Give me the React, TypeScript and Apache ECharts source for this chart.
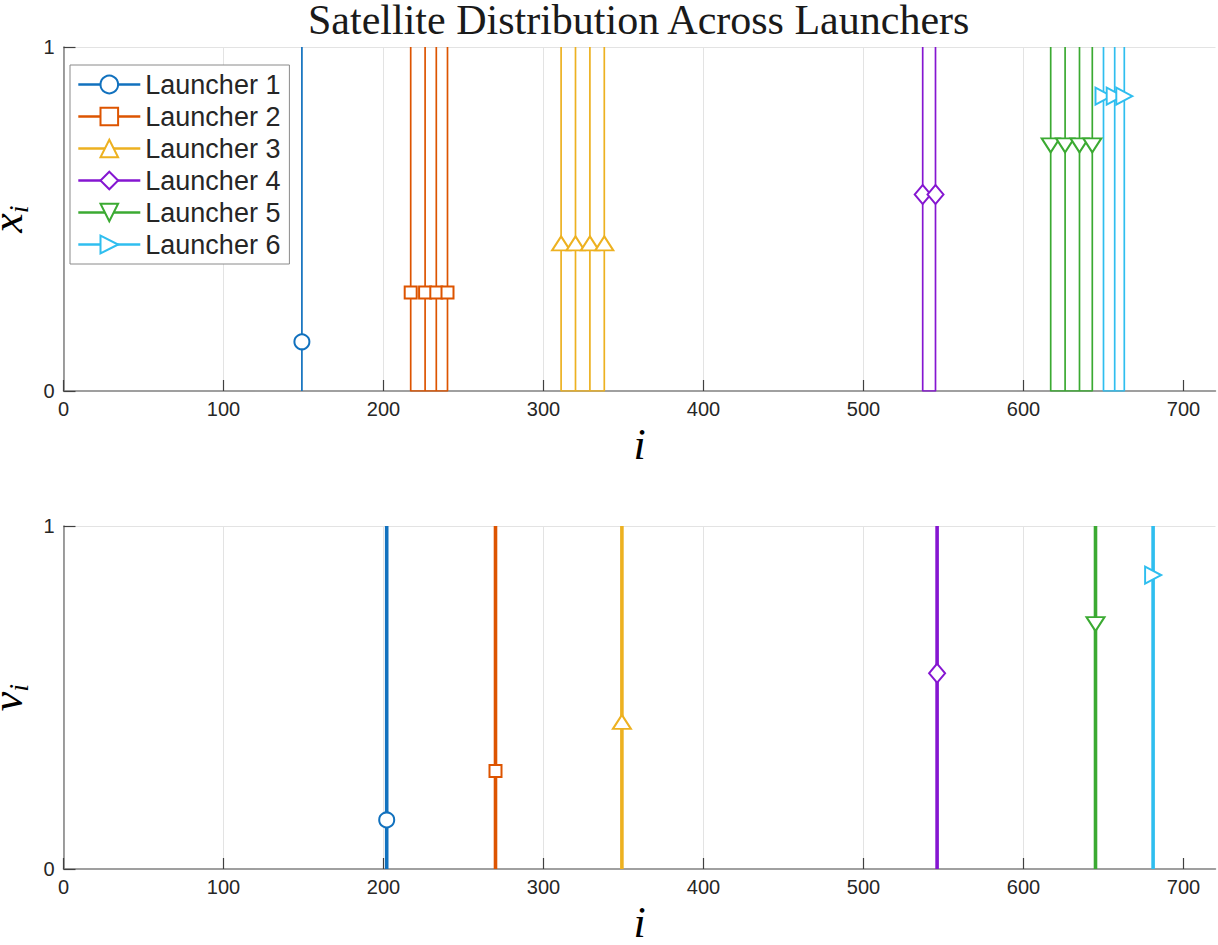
import React, { useEffect, useRef } from 'react';
import * as echarts from 'echarts';

const launcherNames = ['Launcher 1', 'Launcher 2', 'Launcher 3', 'Launcher 4', 'Launcher 5', 'Launcher 6'];
const launcherColors = ['#1171BE', '#DD5400', '#EDB120', '#8516D1', '#3BAA32', '#2FBEEF'];
// x_i: satellite indices assigned to each launcher (top plot)
const topPositions = [
  [149],
  [217, 226, 233, 240],
  [311, 320, 329, 338],
  [537, 545],
  [617, 626, 635, 643],
  [650, 657, 663],
];
// v_i: launcher index positions (bottom plot)
const bottomPositions = [202, 270, 349, 546, 645, 681];
// marker heights per launcher
const markerLevels = [0.143, 0.286, 0.429, 0.571, 0.714, 0.857];
const xTickValues = [0, 100, 200, 300, 400, 500, 600, 700];
const yTickValues = [0, 1];

const markerSymbols = ['emptyCircle', 'emptyRect', 'emptyTriangle', 'emptyDiamond', 'emptyTriangle', 'emptyTriangle'];
const markerRotate = [0, 0, 0, 0, 180, -90];
const markerSizes: any[] = [15, 12, [18, 14], [16, 19], [18, 14], [17, 16]];

const SANS = 'Liberation Sans, Arial, sans-serif';
const SERIF = 'Liberation Serif, Times New Roman, serif';

function topData(positions: number[], level: number) {
  const pts: any[] = [];
  positions.forEach((p) => {
    pts.push({ value: [p, 0], symbol: 'none' });
    pts.push({ value: [p, level] });
    pts.push({ value: [p, 1], symbol: 'none' });
    pts.push({ value: [p, 0], symbol: 'none' });
  });
  return pts;
}

function bottomData(p: number, level: number) {
  return [
    { value: [p, 0], symbol: 'none' },
    { value: [p, level] },
    { value: [p, 1], symbol: 'none' },
  ];
}

function xAxisCfg(gridIndex: number) {
  return {
    type: 'value',
    gridIndex,
    min: 0,
    max: 720,
    interval: 100,
    name: 'i',
    nameLocation: 'middle',
    nameGap: 35,
    nameTextStyle: { fontFamily: SERIF, fontStyle: 'italic', fontSize: 44, lineHeight: 36, color: '#000' },
    axisLine: { show: true, onZero: false, lineStyle: { color: '#808080', width: 1.5 } },
    axisTick: { show: true, inside: true, length: 11, customValues: xTickValues, lineStyle: { color: '#404040', width: 1.2 } },
    axisLabel: {
      margin: 8,
      fontFamily: SANS,
      fontSize: 20,
      color: '#262626',
      customValues: xTickValues,
      formatter: (v: number) => (v === 720 ? '' : String(v)),
    },
    splitLine: { show: true, showMaxLine: false, lineStyle: { color: '#e3e3e3', width: 1 } },
  };
}

function yAxisCfg(gridIndex: number, rich: string) {
  return {
    type: 'value',
    gridIndex,
    min: 0,
    max: 1,
    interval: 1,
    name: rich,
    nameLocation: 'middle',
    nameGap: 29,
    nameRotate: 90,
    nameTextStyle: {
      color: '#000',
      rich: {
        m: { fontFamily: SERIF, fontStyle: 'italic', fontSize: 44, lineHeight: 30, color: '#000' },
        s: { fontFamily: SERIF, fontStyle: 'italic', fontSize: 28, lineHeight: 50, verticalAlign: 'bottom', color: '#000' },
      },
    },
    axisLine: { show: true, lineStyle: { color: '#808080', width: 1.5 } },
    axisTick: { show: true, inside: true, length: 12, customValues: yTickValues, lineStyle: { color: '#404040', width: 1.2 } },
    axisLabel: { margin: 9, fontFamily: SANS, fontSize: 20, color: '#262626' },
    splitLine: { show: true, showMinLine: false, lineStyle: { color: '#e3e3e3', width: 1 } },
  };
}

export default function App() {
  const ref = useRef<HTMLDivElement>(null);
  useEffect(() => {
    document.body.style.margin = '0';
    const chart = echarts.init(ref.current!, null, { renderer: 'svg' });
    const series: any[] = [];
    launcherNames.forEach((name, k) => {
      const common = {
        type: 'line',
        name,
        symbol: markerSymbols[k],
        symbolSize: markerSizes[k],
        symbolRotate: markerRotate[k],
        showSymbol: true,
        showAllSymbol: true,
        itemStyle: { color: launcherColors[k], borderWidth: 1 },
        emphasis: { disabled: true },
        silent: true,
      };
      series.push({
        ...common,
        xAxisIndex: 0,
        yAxisIndex: 0,
        lineStyle: { color: launcherColors[k], width: 1.7 },
        data: topData(topPositions[k], markerLevels[k]),
      });
      series.push({
        ...common,
        xAxisIndex: 1,
        yAxisIndex: 1,
        lineStyle: { color: launcherColors[k], width: 3.6 },
        data: bottomData(bottomPositions[k], markerLevels[k]),
      });
    });
    chart.setOption({
      animation: false,
      backgroundColor: '#fff',
      title: {
        text: 'Satellite Distribution Across Launchers',
        left: 308,
        top: 0,
        padding: 0,
        textStyle: { fontFamily: SERIF, fontSize: 42, lineHeight: 40, fontWeight: 'normal', color: '#1a1a1a' },
      },
      legend: {
        data: launcherNames,
        orient: 'vertical',
        left: 70,
        top: 65,
        padding: [6, 9, 6, 7],
        itemWidth: 62,
        itemHeight: 22,
        itemGap: 5,
        backgroundColor: '#fff',
        borderColor: '#8a8a8a',
        borderWidth: 1,
        borderRadius: 0,
        selectedMode: false,
        textStyle: { fontFamily: SANS, fontSize: 27, color: '#262626' },
        lineStyle: { width: 2.6 },
      },
      grid: [
        { left: 63.5, top: 47, width: 1152, height: 344, containLabel: false, outerBoundsMode: 'none' },
        { left: 63.5, top: 526, width: 1152, height: 343, containLabel: false, outerBoundsMode: 'none' },
      ],
      xAxis: [xAxisCfg(0), xAxisCfg(1)],
      yAxis: [yAxisCfg(0, '{m|x}{s|i}'), yAxisCfg(1, '{m|v}{s|i}')],
      series,
    });
    return () => chart.dispose();
  }, []);
  return <div ref={ref} style={{ width: 1218, height: 945 }} />;
}
